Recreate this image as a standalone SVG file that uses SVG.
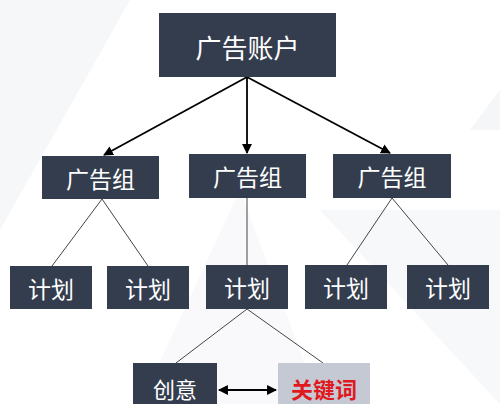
<svg xmlns="http://www.w3.org/2000/svg" width="500" height="404" viewBox="0 0 500 404">
<defs>
<style>
.box{fill:#343d4e;}
.kw{fill:#c4c9d3;}
.t{font-family:"Noto Sans CJK SC","Noto Sans",sans-serif;fill:#ffffff;text-anchor:middle;dominant-baseline:central;}
.big{font-size:26px;}
.mid{font-size:23px;}
.sm{font-size:22px;}
.red{fill:#e0191e;font-weight:bold;}
.arr{stroke:#000;stroke-width:1.8;fill:none;}
.ln{stroke:#444;stroke-width:1;fill:none;}
</style>
<marker id="ah" viewBox="0 0 10 10" refX="9" refY="5" markerWidth="5.5" markerHeight="5.5" orient="auto-start-reverse" markerUnits="strokeWidth">
<path d="M0,0 L10,5 L0,10 z" fill="#000"/>
</marker>
</defs>
<rect width="500" height="404" fill="#ffffff"/>
<g id="background">
<polygon points="0,0 130,0 0,230" fill="#f6f7f9"/>
<polygon points="140,404 240,190 320,404" fill="#f9f9fb"/>
<polygon points="320,210 500,210 500,404" fill="#f7f8fa"/>
<polygon points="470,130 500,90 500,130" fill="#f5f6f8"/>
</g>
<g id="connectors">
<line class="arr" x1="247" y1="77" x2="104" y2="155" marker-end="url(#ah)"/>
<line class="arr" x1="247" y1="77" x2="247" y2="153" marker-end="url(#ah)"/>
<line class="arr" x1="247" y1="77" x2="390" y2="153" marker-end="url(#ah)"/>
<line class="ln" x1="102" y1="199" x2="52" y2="266"/>
<line class="ln" x1="102" y1="199" x2="148" y2="266"/>
<line class="ln" x1="247" y1="198" x2="247" y2="265"/>
<line class="ln" x1="392" y1="198" x2="347" y2="265"/>
<line class="ln" x1="392" y1="198" x2="448" y2="265"/>
<line class="ln" x1="247" y1="309" x2="176" y2="363"/>
<line class="ln" x1="247" y1="309" x2="323" y2="363"/>
<line class="arr" x1="219" y1="390" x2="276" y2="390" marker-start="url(#ah)" marker-end="url(#ah)"/>
</g>
<g id="account">
<rect class="box" x="159" y="13" width="177" height="64"/>
<text class="t big" x="247.5" y="46">广告账户</text>
</g>
<g id="group1">
<rect class="box" x="42" y="156" width="117" height="43"/>
<text class="t mid" x="100.5" y="178">广告组</text>
</g>
<g id="group2">
<rect class="box" x="189" y="154" width="117" height="44"/>
<text class="t mid" x="247.5" y="176">广告组</text>
</g>
<g id="group3">
<rect class="box" x="333" y="154" width="118" height="44"/>
<text class="t mid" x="392" y="176">广告组</text>
</g>
<g id="plan1">
<rect class="box" x="10" y="266" width="82" height="43"/>
<text class="t mid" x="51" y="288">计划</text>
</g>
<g id="plan2">
<rect class="box" x="107" y="266" width="82" height="43"/>
<text class="t mid" x="148" y="288">计划</text>
</g>
<g id="plan3">
<rect class="box" x="206" y="265" width="82" height="44"/>
<text class="t mid" x="247" y="287">计划</text>
</g>
<g id="plan4">
<rect class="box" x="305" y="265" width="82" height="44"/>
<text class="t mid" x="346" y="287">计划</text>
</g>
<g id="plan5">
<rect class="box" x="407" y="265" width="82" height="44"/>
<text class="t mid" x="448" y="287">计划</text>
</g>
<g id="creative">
<rect class="box" x="133" y="363" width="84" height="45"/>
<text class="t sm" x="175" y="388">创意</text>
</g>
<g id="keyword">
<rect class="kw" x="278" y="363" width="92" height="45"/>
<text class="t sm red" x="324" y="388">关键词</text>
</g>
</svg>
